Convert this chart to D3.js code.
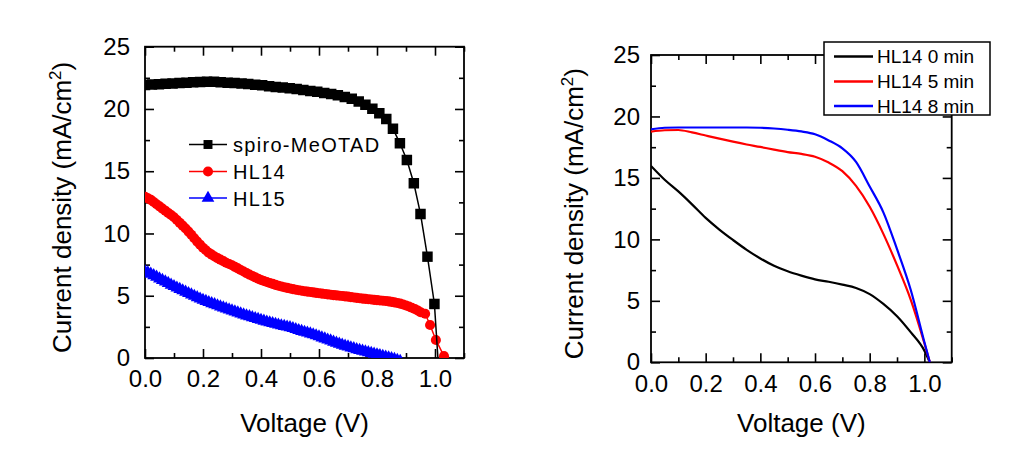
<!DOCTYPE html>
<html>
<head>
<meta charset="utf-8">
<script src="https://cdn.jsdelivr.net/npm/d3@7"></script>
<style>
  html, body { margin: 0; padding: 0; background: #fff; }
  svg { display: block; }
  text { font-family: "Liberation Sans", Arial, sans-serif; fill: #000; }
</style>
</head>
<body>
<svg id="chart" width="1015" height="461"></svg>
<script>
// ---------- data (left panel) ----------
const xMajorTicks = [0.0, 0.2, 0.4, 0.6, 0.8, 1.0];
const xMinorTicks = [0.1, 0.3, 0.5, 0.7, 0.9, 1.1];
const yMajorTicks = [0, 5, 10, 15, 20, 25];
const yMinorTicks = [2.5, 7.5, 12.5, 17.5, 22.5];

const spiroV = [0.000,0.024,0.048,0.071,0.095,0.119,0.143,0.166,0.190,0.214,0.238,0.261,0.285,0.309,0.333,0.356,0.380,0.404,0.428,0.451,0.475,0.499,0.523,0.546,0.570,0.594,0.618,0.642,0.665,0.689,0.713,0.737,0.760,0.784,0.808,0.832,0.855,0.879,0.903,0.927,0.950,0.974,0.998,1.022];
const spiroJ = [21.93,21.96,21.99,22.02,22.05,22.08,22.11,22.14,22.17,22.19,22.18,22.15,22.11,22.08,22.04,22.00,21.95,21.90,21.83,21.77,21.72,21.67,21.60,21.53,21.45,21.38,21.29,21.20,21.10,20.97,20.82,20.60,20.33,20.02,19.66,19.20,18.42,17.24,15.90,14.03,11.57,8.14,4.34,-4.30];

const hl14V = [0.00,0.01,0.02,0.03,0.04,0.05,0.06,0.07,0.08,0.09,0.10,0.11,0.12,0.13,0.14,0.15,0.16,0.17,0.18,0.19,0.20,0.21,0.22,0.23,0.24,0.25,0.26,0.27,0.28,0.29,0.30,0.31,0.32,0.33,0.34,0.35,0.36,0.37,0.38,0.39,0.40,0.41,0.42,0.43,0.44,0.45,0.46,0.47,0.48,0.49,0.50,0.51,0.52,0.53,0.54,0.55,0.56,0.57,0.58,0.59,0.60,0.61,0.62,0.63,0.64,0.65,0.66,0.67,0.68,0.69,0.70,0.71,0.72,0.73,0.74,0.75,0.76,0.77,0.78,0.79,0.80,0.81,0.82,0.83,0.84,0.85,0.86,0.87,0.88,0.89,0.90,0.91,0.92,0.93,0.94,0.95,0.966,0.983,1.003,1.031];
const hl14J = [12.95,12.83,12.70,12.53,12.35,12.18,12.00,11.83,11.65,11.48,11.30,11.08,10.85,10.63,10.40,10.15,9.90,9.62,9.35,9.10,8.85,8.65,8.45,8.30,8.15,8.02,7.90,7.78,7.65,7.55,7.45,7.32,7.20,7.07,6.95,6.82,6.70,6.59,6.48,6.37,6.27,6.18,6.10,6.02,5.95,5.87,5.80,5.74,5.68,5.63,5.58,5.53,5.48,5.44,5.40,5.36,5.33,5.30,5.27,5.23,5.20,5.17,5.14,5.11,5.08,5.05,5.03,5.00,4.98,4.95,4.93,4.89,4.86,4.83,4.80,4.77,4.75,4.72,4.70,4.67,4.65,4.62,4.60,4.58,4.55,4.51,4.47,4.42,4.37,4.30,4.22,4.14,4.04,3.94,3.82,3.68,3.55,2.65,1.45,0.15];

const hl15V = [0.00,0.01,0.02,0.03,0.04,0.05,0.06,0.07,0.08,0.09,0.10,0.11,0.12,0.13,0.14,0.15,0.16,0.17,0.18,0.19,0.20,0.21,0.22,0.23,0.24,0.25,0.26,0.27,0.28,0.29,0.30,0.31,0.32,0.33,0.34,0.35,0.36,0.37,0.38,0.39,0.40,0.41,0.42,0.43,0.44,0.45,0.46,0.47,0.48,0.49,0.50,0.51,0.52,0.53,0.54,0.55,0.56,0.57,0.58,0.59,0.60,0.61,0.62,0.63,0.64,0.65,0.66,0.67,0.68,0.69,0.70,0.71,0.72,0.73,0.74,0.75,0.76,0.77,0.78,0.79,0.80,0.81,0.82,0.83,0.84,0.85,0.86,0.87,0.88];
const hl15J = [6.95,6.85,6.75,6.62,6.50,6.37,6.25,6.12,6.00,5.87,5.75,5.63,5.52,5.41,5.30,5.19,5.08,4.97,4.86,4.75,4.65,4.56,4.47,4.38,4.30,4.21,4.12,4.03,3.95,3.87,3.80,3.72,3.64,3.56,3.48,3.40,3.33,3.25,3.18,3.11,3.04,2.97,2.90,2.84,2.78,2.72,2.66,2.60,2.55,2.50,2.45,2.38,2.30,2.22,2.15,2.08,2.02,1.95,1.88,1.80,1.72,1.63,1.55,1.46,1.38,1.29,1.20,1.12,1.05,0.97,0.90,0.83,0.76,0.69,0.62,0.56,0.50,0.44,0.38,0.32,0.27,0.21,0.15,0.09,0.03,-0.03,-0.10,-0.17,-0.25];

const leftLegend = ["spiro-MeOTAD", "HL14", "HL15"];

// ---------- data (right panel) ----------
const rightV = [0.00,0.05,0.10,0.15,0.20,0.25,0.30,0.35,0.40,0.45,0.50,0.55,0.60,0.65,0.70,0.75,0.80,0.85,0.90,0.95,1.00,1.02];
const min0J = [15.97,14.85,13.90,12.85,11.75,10.80,9.95,9.15,8.45,7.85,7.40,7.05,6.75,6.55,6.32,6.05,5.55,4.75,3.75,2.45,0.95,0.00];
const min5J = [18.77,18.88,18.90,18.70,18.45,18.20,17.95,17.72,17.52,17.30,17.10,16.95,16.72,16.25,15.55,14.35,12.65,10.45,7.90,5.10,1.55,0.00];
const min8J = [18.96,19.08,19.10,19.10,19.10,19.10,19.10,19.10,19.08,19.02,18.92,18.78,18.55,18.05,17.40,16.30,14.30,12.20,9.20,5.90,1.65,0.00];
const rightLegend = ["HL14 0 min", "HL14 5 min", "HL14 8 min"];

const xTitle = "Voltage (V)";

// ---------- drawing ----------
const svg = d3.select("#chart");
const fmtX = d3.format(".1f");

function panel(id, box, padX, padY, titleX) {
  const x = d3.scaleLinear().domain([0, 1.1]).range([box.left, box.right]);
  const y = d3.scaleLinear().domain([0, 25]).range([box.bottom, box.top]);
  const g = svg.append("g");

  svg.append("clipPath").attr("id", id).append("rect")
    .attr("x", box.left).attr("y", box.top)
    .attr("width", box.right - box.left).attr("height", box.bottom - box.top);

  const styleAxis = sel => {
    sel.select(".domain").remove();
    sel.selectAll("line").attr("stroke", "#000").attr("stroke-width", 1.6);
    sel.selectAll("text").style("font-size", "24px").attr("fill", "#000")
      .style("font-family", "'Liberation Sans', Arial, sans-serif");
  };
  g.append("g").attr("transform", `translate(0,${box.bottom})`)
    .call(d3.axisBottom(x).tickValues(xMajorTicks).tickFormat(fmtX).tickSizeInner(-9).tickSizeOuter(0).tickPadding(padX))
    .call(styleAxis);
  g.append("g").attr("transform", `translate(0,${box.bottom})`)
    .call(d3.axisBottom(x).tickValues(xMinorTicks).tickFormat("").tickSizeInner(-5).tickSizeOuter(0))
    .call(styleAxis);
  g.append("g").attr("transform", `translate(0,${box.top})`)
    .call(d3.axisTop(x).tickValues(xMajorTicks).tickFormat("").tickSizeInner(-9).tickSizeOuter(0))
    .call(styleAxis);
  g.append("g").attr("transform", `translate(0,${box.top})`)
    .call(d3.axisTop(x).tickValues(xMinorTicks).tickFormat("").tickSizeInner(-5).tickSizeOuter(0))
    .call(styleAxis);
  g.append("g").attr("transform", `translate(${box.left},0)`)
    .call(d3.axisLeft(y).tickValues(yMajorTicks).tickFormat(d3.format("d")).tickSizeInner(-9).tickSizeOuter(0).tickPadding(padY))
    .call(styleAxis);
  g.append("g").attr("transform", `translate(${box.left},0)`)
    .call(d3.axisLeft(y).tickValues(yMinorTicks).tickFormat("").tickSizeInner(-5).tickSizeOuter(0))
    .call(styleAxis);
  g.append("g").attr("transform", `translate(${box.right},0)`)
    .call(d3.axisRight(y).tickValues(yMajorTicks).tickFormat("").tickSizeInner(-9).tickSizeOuter(0))
    .call(styleAxis);
  g.append("g").attr("transform", `translate(${box.right},0)`)
    .call(d3.axisRight(y).tickValues(yMinorTicks).tickFormat("").tickSizeInner(-5).tickSizeOuter(0))
    .call(styleAxis);

  g.append("rect").attr("x", box.left).attr("y", box.top)
    .attr("width", box.right - box.left).attr("height", box.bottom - box.top)
    .attr("fill", "none").attr("stroke", "#000").attr("stroke-width", 1.8);

  g.append("text").attr("x", (box.left + box.right) / 2).attr("y", 432)
    .attr("text-anchor", "middle").style("font-size", "26px").text(xTitle);
  const yt = g.append("text")
    .attr("transform", `translate(${titleX},${(box.top + box.bottom) / 2 + 5}) rotate(-90)`)
    .attr("text-anchor", "middle").style("font-size", "26px");
  yt.append("tspan").text("Current density (mA/cm");
  yt.append("tspan").attr("dy", -10).style("font-size", "17px").text("2");
  yt.append("tspan").attr("dy", 10).text(")");

  return { x, y, g, clip: `url(#${id})` };
}

// ---------------- left panel ----------------
const L = panel("clipL", { left: 145, right: 464, top: 46.7, bottom: 358 }, 12, 15, 71);
const dl = svg.append("g").attr("clip-path", L.clip);
const lineL = d3.line().x(d => L.x(d[0])).y(d => L.y(d[1]));
const zipL = (a, b) => a.map((v, i) => [v, b[i]]);
const spiro = zipL(spiroV, spiroJ), hl14 = zipL(hl14V, hl14J), hl15 = zipL(hl15V, hl15J);

const sq = d3.symbol().type(d3.symbolSquare).size(110);
const ci = d3.symbol().type(d3.symbolCircle).size(80);
const tr = d3.symbol().type(d3.symbolTriangle).size(72);

dl.append("path").datum(hl15).attr("d", lineL).attr("fill", "none").attr("stroke", "#0000ff").attr("stroke-width", 1.5);
dl.selectAll(".t").data(hl15).join("path").attr("d", tr)
  .attr("transform", d => `translate(${L.x(d[0])},${L.y(d[1])})`).attr("fill", "#0000ff");
dl.append("path").datum(hl14).attr("d", lineL).attr("fill", "none").attr("stroke", "#ff0000").attr("stroke-width", 1.5);
dl.selectAll(".c").data(hl14).join("path").attr("d", ci)
  .attr("transform", d => `translate(${L.x(d[0])},${L.y(d[1])})`).attr("fill", "#ff0000");
dl.append("path").datum(spiro).attr("d", lineL).attr("fill", "none").attr("stroke", "#000").attr("stroke-width", 1.5);
dl.selectAll(".s").data(spiro).join("path").attr("d", sq)
  .attr("transform", d => `translate(${L.x(d[0])},${L.y(d[1])})`).attr("fill", "#000");

// left legend
const legL = svg.append("g");
const legColors = ["#000", "#ff0000", "#0000ff"];
const legSyms = [d3.symbol().type(d3.symbolSquare).size(80), d3.symbol().type(d3.symbolCircle).size(80), d3.symbol().type(d3.symbolTriangle).size(70)];
const legRowY = [144.5, 171.5, 198];
leftLegend.forEach((name, i) => {
  legL.append("line").attr("x1", 189).attr("x2", 227).attr("y1", legRowY[i]).attr("y2", legRowY[i])
    .attr("stroke", legColors[i]).attr("stroke-width", 1.5);
  legL.append("path").attr("d", legSyms[i]()).attr("transform", `translate(208,${legRowY[i]})`).attr("fill", legColors[i]);
  legL.append("text").attr("x", 233).attr("y", legRowY[i] + 7.5).style("font-size", "20px")
    .style("letter-spacing", "1.3px").text(name);
});

// ---------------- right panel ----------------
const R = panel("clipR", { left: 651, right: 951.7, top: 55, bottom: 362.3 }, 13, 11, 583);
const dr = svg.append("g").attr("clip-path", R.clip);
const lineR = d3.line().x(d => R.x(d[0])).y(d => R.y(d[1])).curve(d3.curveMonotoneX);
const rSeries = [min0J, min5J, min8J];
const rColors = ["#000", "#ff0000", "#0000ff"];
rSeries.forEach((js, i) => {
  dr.append("path").datum(rightV.map((v, k) => [v, js[k]])).attr("d", lineR)
    .attr("fill", "none").attr("stroke", rColors[i]).attr("stroke-width", 2.2);
});

// right legend
const legR = svg.append("g");
legR.append("rect").attr("x", 824).attr("y", 42).attr("width", 166).attr("height", 73)
  .attr("fill", "#fff").attr("stroke", "#000").attr("stroke-width", 1.5);
const legRY = [56.5, 81.5, 106];
rightLegend.forEach((name, i) => {
  legR.append("line").attr("x1", 834).attr("x2", 873).attr("y1", legRY[i]).attr("y2", legRY[i])
    .attr("stroke", rColors[i]).attr("stroke-width", 2.5);
  legR.append("text").attr("x", 877).attr("y", legRY[i] + 6.5).style("font-size", "19px").text(name);
});
</script>
</body>
</html>
